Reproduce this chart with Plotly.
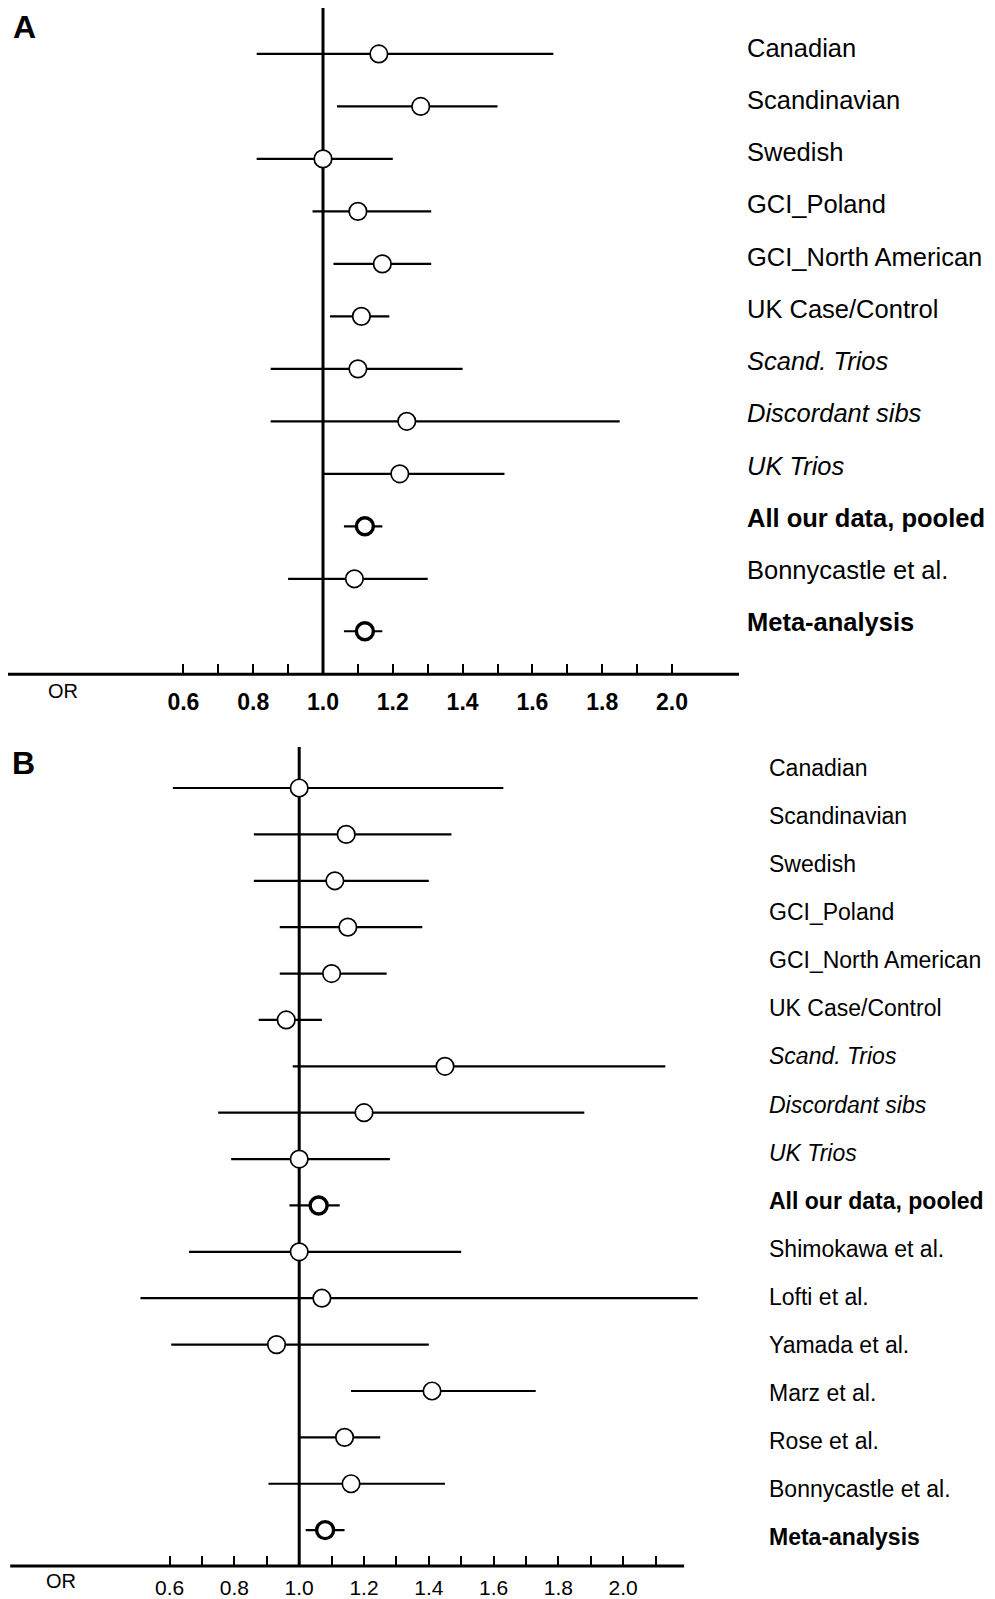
import plotly.graph_objects as go

# ---------------- data ----------------
studies_a = ["Canadian", "Scandinavian", "Swedish", "GCI_Poland", "GCI_North American",
             "UK Case/Control", "Scand. Trios", "Discordant sibs", "UK Trios",
             "All our data, pooled", "Bonnycastle et al.", "Meta-analysis"]
or_a = [1.16, 1.28, 1.00, 1.10, 1.17, 1.11, 1.10, 1.24, 1.22, 1.12, 1.09, 1.12]
lo_a = [0.81, 1.04, 0.81, 0.97, 1.03, 1.02, 0.85, 0.85, 1.00, 1.06, 0.90, 1.06]
hi_a = [1.66, 1.50, 1.20, 1.31, 1.31, 1.19, 1.40, 1.85, 1.52, 1.17, 1.30, 1.17]

studies_b = ["Canadian", "Scandinavian", "Swedish", "GCI_Poland", "GCI_North American",
             "UK Case/Control", "Scand. Trios", "Discordant sibs", "UK Trios",
             "All our data, pooled", "Shimokawa et al.", "Lofti et al.", "Yamada et al.",
             "Marz et al.", "Rose et al.", "Bonnycastle et al.", "Meta-analysis"]
or_b = [1.00, 1.145, 1.11, 1.15, 1.10, 0.96, 1.45, 1.20, 1.00, 1.06, 1.00, 1.07, 0.93,
        1.41, 1.14, 1.16, 1.08]
lo_b = [0.61, 0.86, 0.86, 0.94, 0.94, 0.875, 0.98, 0.75, 0.79, 0.97, 0.66, 0.51, 0.605,
        1.16, 1.00, 0.905, 1.02]
hi_b = [1.63, 1.47, 1.40, 1.38, 1.27, 1.07, 2.13, 1.88, 1.28, 1.125, 1.50, 2.23, 1.40,
        1.73, 1.25, 1.45, 1.14]

italic_rows = {"Scand. Trios", "Discordant sibs", "UK Trios"}
bold_rows = {"All our data, pooled", "Meta-analysis"}

tick_vals = [0.6, 0.7, 0.8, 0.9, 1.0, 1.1, 1.2, 1.3, 1.4, 1.5, 1.6, 1.7, 1.8, 1.9, 2.0]
tick_labels = ["0.6", "", "0.8", "", "1.0", "", "1.2", "", "1.4", "", "1.6", "", "1.8", "", "2.0"]
tick_vals_b = tick_vals + [2.1]
tick_labels_b = tick_labels + [""]

# ---------------- layout helpers ----------------
OFF = 8                                # page body margin
W, H = 995 - 2 * OFF, 1599 - OFF       # figure size
FONT = "Liberation Sans, Arial, Helvetica, sans-serif"


def fx(p):
    return min(1.0, max(0.0, (p - OFF) / W))


def fy(p):
    return min(1.0, max(0.0, 1 - (p - OFF) / H))


def yrange(first_px, step_px, top_px, bottom_px):
    r_top = -(first_px - top_px) / step_px
    r_bottom = r_top + (bottom_px - top_px) / step_px
    return [r_bottom, r_top]


def xrange(left_px, right_px, one_px, scale):
    return [1 + (left_px - one_px) / scale, 1 + (right_px - one_px) / scale]


def fmt(name):
    if name in italic_rows:
        return "<i>%s</i>" % name
    if name in bold_rows:
        return "<b>%s</b>" % name
    return name


fig = go.Figure()


def add_panel(studies, ors, los, his, xa, ya, yl):
    n = len(studies)
    idx = list(range(n))
    lx, ly = [], []
    for i in idx:
        lx += [los[i], his[i], None]
        ly += [i, i, None]
    fig.add_trace(go.Scatter(x=lx, y=ly, mode="lines", line=dict(color="black", width=2.2),
                             xaxis=xa, yaxis=ya, hoverinfo="skip", showlegend=False))
    reg = [i for i in idx if studies[i] not in bold_rows]
    bld = [i for i in idx if studies[i] in bold_rows]
    fig.add_trace(go.Scatter(x=[ors[i] for i in reg], y=reg, mode="markers",
                             marker=dict(symbol="circle", size=17.5, color="white",
                                         line=dict(color="black", width=1.7)),
                             xaxis=xa, yaxis=ya, showlegend=False))
    fig.add_trace(go.Scatter(x=[ors[i] for i in bld], y=bld, mode="markers",
                             marker=dict(symbol="circle", size=17, color="white",
                                         line=dict(color="black", width=3.4)),
                             xaxis=xa, yaxis=ya, showlegend=False))
    # label column axis carrier
    fig.add_trace(go.Scatter(x=[1] * n, y=idx, mode="markers", marker=dict(opacity=0),
                             xaxis=xa, yaxis=yl, hoverinfo="skip", showlegend=False))


add_panel(studies_a, or_a, lo_a, hi_a, "x", "y", "y3")
add_panel(studies_b, or_b, lo_b, hi_b, "x2", "y2", "y4")

# panel geometry (page pixels)
A_top, A_bot = 8, 675
B_top, B_bot = 748, 1568
A_one, A_scale = 323, 349
B_one, B_scale = 299.2, 324

common_x = dict(ticks="inside", ticklen=10, tickwidth=2, tickcolor="black",
                showgrid=False, zeroline=False, showline=False)

fig.update_layout(
    width=W, height=H, margin=dict(l=0, r=0, t=0, b=0),
    paper_bgcolor="white", plot_bgcolor="white", showlegend=False,
    font=dict(family=FONT, color="black"),
    xaxis=dict(domain=[fx(8), fx(742)], range=xrange(8, 742, A_one, A_scale), anchor="y",
               tickvals=tick_vals, ticktext=["<b>%s</b>" % t if t else "" for t in tick_labels],
               tickfont=dict(size=23, family=FONT), ticklabelstandoff=12, **common_x),
    yaxis=dict(domain=[fy(A_bot), fy(A_top)], range=yrange(54, 52.55, A_top, A_bot),
               visible=False, anchor="x"),
    yaxis3=dict(overlaying="y", side="right", anchor="free", position=fx(746),
                range=yrange(48, 52.27, A_top, A_bot), tickvals=list(range(len(studies_a))),
                ticktext=[fmt(s) for s in studies_a], tickfont=dict(size=25.5, family=FONT),
                showgrid=False, zeroline=False, showline=False, ticks=""),
    xaxis2=dict(domain=[fx(8), fx(710)], range=xrange(8, 710, B_one, B_scale), anchor="y2",
                tickvals=tick_vals_b, ticktext=tick_labels_b,
                tickfont=dict(size=21, family=FONT), ticklabelstandoff=7, **common_x),
    yaxis2=dict(domain=[fy(B_bot), fy(B_top)], range=yrange(789, 46.44, B_top, B_bot),
                visible=False, anchor="x2"),
    yaxis4=dict(overlaying="y2", side="right", anchor="free", position=fx(768),
                range=yrange(769, 48.125, B_top, B_bot), tickvals=list(range(len(studies_b))),
                ticktext=[fmt(s) for s in studies_b], tickfont=dict(size=23, family=FONT),
                showgrid=False, zeroline=False, showline=False, ticks=""),
)

shapes = []
for xa, ya, x0, x1 in [("x", "y", 0.095, 2.192), ("x2", "y2", 0.108, 2.188)]:
    # reference line at OR = 1
    shapes.append(dict(type="line", xref=xa, yref=ya + " domain", x0=1, x1=1, y0=0, y1=1,
                       line=dict(color="black", width=3), layer="below"))
    # axis baseline
    shapes.append(dict(type="line", xref=xa, yref=ya + " domain", x0=x0, x1=x1, y0=0, y1=0,
                       line=dict(color="black", width=3), layer="above"))
fig.update_layout(shapes=shapes)

fig.add_annotation(text="<b>A</b>", x=fx(24), y=1, xref="paper", yref="paper",
                   showarrow=False, font=dict(size=32, family=FONT), xanchor="center",
                   yanchor="top", borderpad=0)
fig.add_annotation(text="<b>B</b>", x=fx(23), y=fy(764), xref="paper", yref="paper",
                   showarrow=False, font=dict(size=32, family=FONT), xanchor="center", yanchor="middle")
fig.add_annotation(text="OR", x=fx(63), y=fy(692), xref="paper", yref="paper",
                   showarrow=False, font=dict(size=20, family=FONT), xanchor="center", yanchor="middle")
fig.add_annotation(text="OR", x=fx(61), y=fy(1583), xref="paper", yref="paper",
                   showarrow=False, font=dict(size=20, family=FONT), xanchor="center", yanchor="middle")

fig.write_html("out.html")
